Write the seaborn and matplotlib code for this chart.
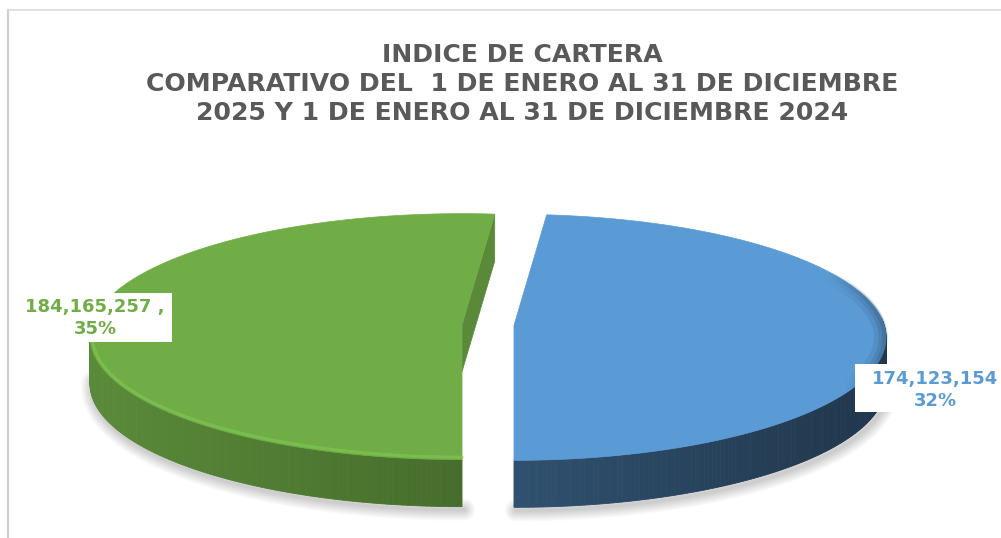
import numpy as np
import matplotlib
matplotlib.use("Agg")
import matplotlib.pyplot as plt
import seaborn as sns
from matplotlib.patches import Polygon, Rectangle
from matplotlib.lines import Line2D
from matplotlib.collections import LineCollection
from matplotlib.colors import to_rgb

# ---------------- data ----------------
categories = ["1 ENE - 31 DIC 2024", "1 ENE - 31 DIC 2025"]
values = [184165257, 174123154]
value_labels = ["184,165,257 ,", "174,123,154"]
pct_labels = ["35%", "32%"]
colors = ["#70AD47", "#5B9BD5"]
title_lines = ["INDICE DE CARTERA",
               "COMPARATIVO DEL  1 DE ENERO AL 31 DE DICIEMBRE",
               "2025 Y 1 DE ENERO AL 31 DE DICIEMBRE 2024"]

# ---------------- layout ----------------
sns.set_theme(style="white")
plt.rcParams['font.family'] = ['DejaVu Sans']
W, H = 1001, 538
fig = plt.figure(figsize=(W / 100, H / 100), dpi=100)
ax = fig.add_axes([0, 0, 1, 1])
ax.set_xlim(0, W)
ax.set_ylim(H, 0)
ax.axis("off")

cx, cy_apex, cy_ell = 488, 325, 337
a, b = 372, 123
depth = 47
explode = 26
wall_base = [0.63, 0.52]

# angles: second slice (blue) starts at -90 going counter-clockwise, first follows
total = float(sum(values))
span = [360.0 * v / total for v in values]
blue_t0 = -90.0
blue_t1 = blue_t0 + span[1]
green_t0 = blue_t1
green_t1 = green_t0 + span[0]
slices = [(green_t0, green_t1), (blue_t0, blue_t1)]


def shade(c, f):
    r, g, bb = to_rgb(c)
    return (min(r * f, 1), min(g * f, 1), min(bb * f, 1))


def geom(t0, t1):
    m = np.radians((t0 + t1) / 2)
    dx = explode * np.cos(m)
    dy = -explode * np.sin(m) * 0.3
    th = np.radians(np.linspace(t0, t1, 240))
    rx = cx + dx + a * np.cos(th)
    ry = cy_ell + dy - b * np.sin(th)
    apex = (cx + dx, cy_apex + dy)
    return th, rx, ry, apex


# soft shadow under the front rim only
for (t0, t1) in slices:
    th, rx, ry, apex = geom(t0, t1)
    front = np.sin(th) < 0.05
    sx = rx[front] + 2
    sy = ry[front] + depth + 3
    for lw in np.linspace(16, 2, 10):
        ax.plot(sx, sy, color=(0, 0, 0), alpha=0.018, lw=lw,
                solid_capstyle="round", zorder=1)

# walls, faces, tops
for i, (t0, t1) in enumerate(slices):
    col = colors[i]
    th, rx, ry, apex = geom(t0, t1)
    # outer wall
    for j in range(len(th) - 1):
        tm = (th[j] + th[j + 1]) / 2
        if np.sin(tm) > 0.15:
            continue
        f = wall_base[i] + 0.17 * np.cos(tm - np.pi)
        quad = [(rx[j], ry[j]), (rx[j + 1], ry[j + 1]),
                (rx[j + 1], ry[j + 1] + depth), (rx[j], ry[j] + depth)]
        ax.add_patch(Polygon(quad, closed=True, fc=shade(col, f), ec=shade(col, f),
                             lw=0.6, zorder=2))
    # radial faces that face the viewer
    for t, sgn in [(t0, -1), (t1, 1)]:
        nrm = np.radians(t + sgn * 90)
        if -np.sin(nrm) > 0.01:
            k = 0 if t == t0 else -1
            face = [apex, (rx[k], ry[k]), (rx[k], ry[k] + depth),
                    (apex[0], apex[1] + depth)]
            ax.add_patch(Polygon(face, closed=True, fc=shade(col, 0.8),
                                 ec=shade(col, 0.8), lw=0.5, zorder=2))
    # top
    top = np.column_stack([np.r_[apex[0], rx], np.r_[apex[1], ry]])
    ax.add_patch(Polygon(top, closed=True, fc=col, ec=col, lw=0.5, zorder=3))
    # rim bevel
    if i == 0:
        front = np.sin(th) < 0.35
        ax.plot(rx[front] + 2.5 * np.cos(th[front]) * -1, ry[front] + 2.5 * np.sin(th[front]),
                color=shade(col, 1.13), lw=2.2, alpha=0.75, zorder=4,
                solid_capstyle="round")
    else:
        for w_, base_al in [(10, 0.16), (6, 0.22), (3, 0.3)]:
            px = rx - (w_ / 2) * np.cos(th)
            py = ry + (w_ / 2) * np.sin(th)
            segs = [[(px[j], py[j]), (px[j + 1], py[j + 1])] for j in range(len(th) - 1)]
            tm = (th[:-1] + th[1:]) / 2
            wgt = np.clip(np.cos(tm - np.radians(3)) - 0.88, 0, None) / 0.12
            rgb = shade(col, 0.55)
            cols = [(rgb[0], rgb[1], rgb[2], base_al * w) for w in wgt]
            ax.add_collection(LineCollection(segs, colors=cols, linewidths=w_,
                                             capstyle="butt", zorder=4))

# data labels
label_boxes = [(12, 293, 160, 49), (855, 364, 160, 48)]
label_pos = [(95, 318), (935, 390)]
for i in range(len(values)):
    x0, y0, w0, h0 = label_boxes[i]
    ax.add_patch(Rectangle((x0, y0), w0, h0, fc="white", ec="none", zorder=5))
    ax.text(label_pos[i][0], label_pos[i][1], value_labels[i] + "\n" + pct_labels[i],
            ha="center", va="center", fontsize=13, fontweight="bold",
            color=colors[i], linespacing=1.3, zorder=6, family=["DejaVu Sans"])

# title
fig.canvas.draw()
renderer = fig.canvas.get_renderer()
probe = ax.text(0, 0, title_lines[1], fontsize=20, fontweight="bold", family=["DejaVu Sans"])
wpx = probe.get_window_extent(renderer).width
probe.remove()
tsize = 20 * 752.0 / wpx
for k, line in enumerate(title_lines):
    ax.text(522, 62 + 29 * k, line, ha="center", va="baseline", fontsize=tsize,
            fontweight="bold", color="#595959", family=["DejaVu Sans"], zorder=6)

# chart frame
ax.add_line(Line2D([8, 8], [10, H], color="#CFCFCF", lw=1.6, zorder=7))
ax.add_line(Line2D([8, W], [10, 10], color="#DADADA", lw=1.2, zorder=7))

fig.savefig("out.png", dpi=100)
